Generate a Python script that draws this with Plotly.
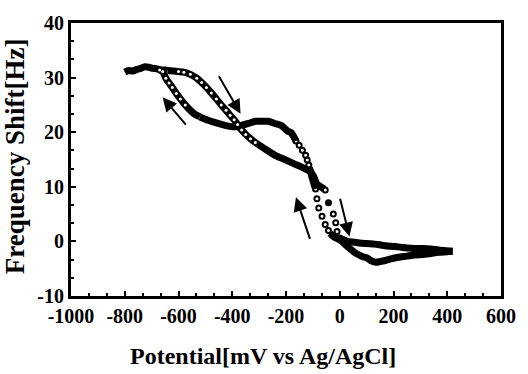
import plotly.graph_objects as go

# ---------------- data ----------------
# forward scan (negative -> positive potential)
fwd_plateau_x = [-800, -785, -770, -755, -740, -725, -710, -695, -680, -665, -650, -640]
fwd_plateau_y = [31.0, 31.3, 31.2, 31.5, 31.7, 32.0, 31.9, 31.7, 31.6, 31.4, 31.4, 31.3]

fwd_desc_x = [-640, -620, -600, -580, -556, -532, -514, -496, -478, -459, -441, -423,
              -408, -393, -380, -365, -350, -332, -314]
fwd_desc_y = [31.3, 31.2, 31.1, 31.0, 30.6, 29.9, 29.1, 28.2, 27.2, 26.1, 25.0, 24.0,
              23.1, 22.3, 21.4, 20.4, 19.6, 18.8, 18.1]

fwd_mid_x = [-314, -280, -242, -205, -169, -145, -121, -109, -97, -85, -70, -58]
fwd_mid_y = [18.1, 17.0, 15.8, 15.0, 14.2, 13.7, 13.1, 12.8, 11.9, 10.5, 10.0, 9.6]

fwd_steep_x = [-54, -24, -15, -10, 0]
fwd_steep_y = [9.4, 5.0, 3.4, 1.8, 0.6]

fwd_tail_x = [0, 15, 30, 60, 97, 130, 157, 190, 218, 250, 278, 310, 339, 370, 399, 420]
fwd_tail_y = [0.6, 0.3, 0.0, -0.2, -0.4, -0.5, -0.7, -0.9, -1.0, -1.2, -1.3, -1.3, -1.4, -1.6, -1.7, -1.8]

# reverse scan (positive -> negative potential)
ret_tail_x = [420, 399, 370, 339, 310, 277, 250, 218, 190, 170, 150, 133, 115, 100, 85, 73,
              60, 45, 30, 15, 0, -12, -24, -36]
ret_tail_y = [-1.8, -1.9, -2.0, -2.2, -2.4, -2.5, -2.7, -2.9, -3.2, -3.5, -3.7, -3.8, -3.5,
              -3.0, -2.8, -2.5, -2.2, -1.6, -1.0, -0.3, 0.3, 0.6, 0.9, 1.5]

ret_steep_x = [-42, -54, -66, -78, -85, -90]
ret_steep_y = [2.0, 3.1, 4.6, 6.1, 7.8, 9.6]

ret_mid_x = [-90, -100, -109, -113]
ret_mid_y = [9.6, 11.2, 12.8, 13.5]

ret_rise_x = [-115, -121, -127, -139, -151, -163]
ret_rise_y = [14.0, 14.9, 15.8, 16.7, 17.6, 18.4]

ret_plateau_x = [-163, -169, -181, -194, -217, -242, -266, -290, -314, -340, -375, -400,
                 -430, -459, -490, -520]
ret_plateau_y = [18.4, 19.0, 19.9, 20.2, 21.2, 21.6, 22.0, 22.0, 22.0, 21.6, 21.1, 21.0,
                 21.3, 21.7, 22.2, 22.8]

ret_climb_x = [-520, -540, -556, -575, -593, -608, -623, -635, -647, -659, -670]
ret_climb_y = [22.8, 23.3, 24.0, 25.0, 26.1, 27.1, 28.2, 29.0, 29.9, 31.1, 31.4]

blob_x = [-42]
blob_y = [7.1]

# scan-direction arrows: tail -> head
arrow_tail_x = [-453, -568, -109, 0]
arrow_tail_y = [30.5, 21.1, 0.2, 8.1]
arrow_head_x = [-369, -659, -163, 36]
arrow_head_y = [23.4, 26.4, 8.1, 0.9]

x_range = [-1000, 600]
y_range = [-10, 40]
x_tickvals = [-1000, -800, -600, -400, -200, 0, 200, 400, 600]
y_tickvals = [-10, 0, 10, 20, 30, 40]

# ---------------- figure ----------------
BLACK = "#000000"
FONT = "Liberation Serif"
fig = go.Figure()

dense = [(fwd_plateau_x, fwd_plateau_y), (fwd_desc_x, fwd_desc_y), (fwd_mid_x, fwd_mid_y),
         (fwd_tail_x, fwd_tail_y), (ret_tail_x, ret_tail_y), (ret_mid_x, ret_mid_y),
         (ret_plateau_x, ret_plateau_y), (ret_climb_x, ret_climb_y)]
for xs, ys in dense:
    fig.add_trace(go.Scatter(x=xs, y=ys, mode="lines",
                             line=dict(color=BLACK, width=7, shape="spline", smoothing=0.6),
                             hoverinfo="skip"))

# white holes of the open circles seen inside the dense parts
for xs, ys in [(fwd_desc_x[2:], fwd_desc_y[2:]), (ret_climb_x[3:], ret_climb_y[3:])]:
    fig.add_trace(go.Scatter(x=xs, y=ys, mode="markers",
                             marker=dict(symbol="circle", size=3, color="white",
                                         line=dict(width=0))))

# separated open circles
for xs, ys in [(fwd_steep_x, fwd_steep_y), (ret_steep_x, ret_steep_y), (ret_rise_x, ret_rise_y)]:
    fig.add_trace(go.Scatter(x=xs, y=ys, mode="markers",
                             marker=dict(symbol="circle-open", size=5, color=BLACK,
                                         line=dict(color=BLACK, width=2))))

fig.add_trace(go.Scatter(x=blob_x, y=blob_y, mode="markers",
                         marker=dict(symbol="circle", size=7, color=BLACK)))

for tx, ty, hx, hy in zip(arrow_tail_x, arrow_tail_y, arrow_head_x, arrow_head_y):
    fig.add_annotation(x=hx, y=hy, ax=tx, ay=ty, xref="x", yref="y", axref="x", ayref="y",
                       text="", showarrow=True, arrowhead=2, arrowsize=1.4,
                       arrowwidth=2, arrowcolor=BLACK)

axis_common = dict(showgrid=False, zeroline=False, showline=True, linecolor=BLACK,
                   linewidth=3, mirror=True, ticks="inside", tickcolor=BLACK,
                   tickwidth=2, ticklen=5, tickangle=0,
                   tickfont=dict(family=FONT, size=20, color=BLACK))

fig.update_xaxes(range=x_range, tickvals=x_tickvals,
                 ticktext=["<b>%d</b>" % v for v in x_tickvals],
                 minor=dict(ticks="inside", dtick=200 / 3, tick0=-1000, ticklen=3,
                            tickwidth=2, tickcolor=BLACK),
                 **axis_common)
fig.update_yaxes(range=y_range, tickvals=y_tickvals,
                 ticktext=["<b>%d</b>" % v for v in y_tickvals],
                 minor=dict(ticks="inside", dtick=10 / 3, tick0=-10, ticklen=3,
                            tickwidth=2, tickcolor=BLACK),
                 **axis_common)

fig.add_annotation(text="<b>Potential[mV vs Ag/AgCl]</b>", xref="paper", yref="paper",
                   x=0.447, y=-0.22, showarrow=False, xanchor="center", yanchor="middle",
                   font=dict(family=FONT, size=24, color=BLACK))
fig.add_annotation(text="<b>Frequency Shift[Hz]</b>", xref="paper", yref="paper",
                   x=-0.13, y=0.512, showarrow=False, xanchor="center", yanchor="middle",
                   textangle=-90,
                   font=dict(family=FONT, size=27, color=BLACK))

fig.update_layout(width=528, height=374, margin=dict(l=71, r=16, t=13, b=78),
                  paper_bgcolor="white", plot_bgcolor="white", showlegend=False)

fig.write_html("out.html")
